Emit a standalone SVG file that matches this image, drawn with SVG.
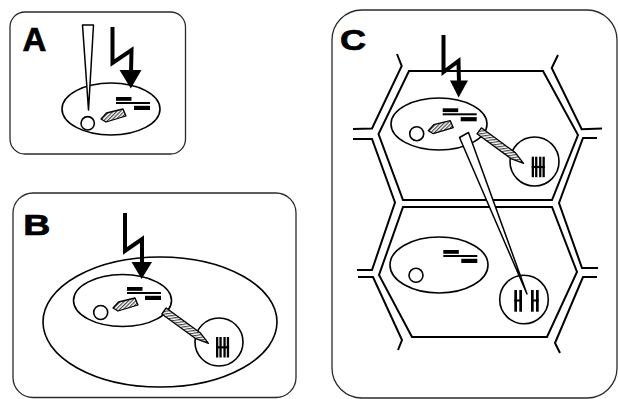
<svg xmlns="http://www.w3.org/2000/svg" width="618" height="399" viewBox="0 0 618 399">
<style>
  .frame{fill:none;stroke:#2a2a2a;stroke-width:1.3}
  .label{font-family:"Liberation Sans",Arial,sans-serif;font-weight:bold;fill:#000;stroke:#000;stroke-width:0.7}
  .outline{fill:none;stroke:#000;stroke-width:1.6}
  .wall{fill:none;stroke:#000;stroke-width:2;stroke-linejoin:miter}
  .bolt{fill:none;stroke:#000;stroke-width:4;stroke-linejoin:miter;stroke-miterlimit:10}
  .head{fill:#000}
  .needle{fill:#fff;stroke:#000;stroke-width:1.5;stroke-linejoin:round}
  .hatched{fill:url(#hatch);stroke:#000;stroke-width:1.3;stroke-linejoin:round}
  .ink{fill:#000}
</style>
<defs>
  <pattern id="hatch" width="2.6" height="2.6" patternUnits="userSpaceOnUse" patternTransform="rotate(45)">
    <rect width="2.6" height="2.6" fill="#fff"/>
    <line x1="0.6" y1="0" x2="0.6" y2="2.6" stroke="#3a3a3a" stroke-width="1.1"/>
  </pattern>
  <!-- gene bars: two blocks joined by a thin strand -->
  <g id="dna">
    <rect x="0" y="0" width="15.5" height="3.8"/>
    <rect x="0" y="5" width="34" height="2"/>
    <rect x="18" y="8.8" width="16" height="4.2"/>
  </g>
  <!-- small pointed organelle -->
  <path id="organelle" d="M0,0 L5.5,-6 L22,-10 L25,-3 L5,3 Z"/>
  <!-- hatched transfer tube, pointed at the far end -->
  <path id="pencil" d="M0,-3.7 L42,-3.7 L55,0 L42,3.7 L0,3.7 Z"/>
  <!-- paired chromatids -->
  <g id="pair">
    <rect x="0" y="0" width="2.3" height="20.5"/>
    <rect x="3.4" y="0" width="2.3" height="20.5"/>
    <rect x="7.4" y="0" width="2.3" height="20.5"/>
    <rect x="10.8" y="0" width="2.3" height="20.5"/>
    <rect x="0" y="9.2" width="13.1" height="2.2"/>
  </g>
</defs>

<rect width="618" height="399" fill="#fff"/>

<!-- panel A -->
<g id="panel-a">
  <rect class="frame" x="10" y="12" width="175.5" height="142" rx="15" ry="15"/>
  <text class="label" x="22.5" y="51" font-size="33">A</text>
  <ellipse class="outline" cx="111" cy="109" rx="49" ry="26"/>
  <circle class="outline" cx="87.7" cy="123.3" r="6.7"/>
  <use href="#organelle" class="hatched" transform="translate(101,119)"/>
  <use href="#dna" class="ink" transform="translate(116,97)"/>
</g>

<!-- panel B -->
<g id="panel-b">
  <rect class="frame" x="13" y="193" width="283" height="204.5" rx="20" ry="20"/>
  <text class="label" transform="translate(23.3,234.5) scale(1.25,1)" font-size="30">B</text>
  <ellipse class="outline" cx="160" cy="322" rx="117" ry="65"/>
  <ellipse class="outline" cx="122.5" cy="300.5" rx="49" ry="26"/>
  <circle class="outline" cx="100.7" cy="312.5" r="7"/>
  <use href="#organelle" class="hatched" transform="translate(113,308)"/>
  <use href="#dna" class="ink" transform="translate(127,287)"/>
  <circle class="outline" cx="219" cy="342" r="24"/>
  <use href="#pair" class="ink" transform="translate(216,337)"/>
</g>

<!-- panel C: two neighbouring cells in tissue -->
<g id="panel-c">
  <rect class="frame" x="332" y="10" width="285" height="388" rx="30" ry="30"/>
  <text class="label" transform="translate(340,49.5) scale(1.2,1)" font-size="30">C</text>
  <g id="tissue-walls">
    <polyline class="wall" points="397,54 401.7,66 372,128.5 353,129"/>
    <polyline class="wall" points="353,139 372,139 395,202.5 372,270 357,270"/>
    <polyline class="wall" points="358,277 373,277 402,340 398,350"/>
    <polyline class="wall" points="558,55 551.7,68 581.7,129.3 602,128.5"/>
    <polyline class="wall" points="597,138 583,138 559,203 582,268 598,268"/>
    <polyline class="wall" points="597,277 583,277 555,343 560,353"/>
  </g>
  <g id="cell-upper">
    <polygon class="wall" points="409,71 543,71 578,135 552,200 403,200 378.5,134"/>
    <ellipse class="outline" cx="439" cy="124" rx="48" ry="26"/>
    <circle class="outline" cx="416.7" cy="133.7" r="7"/>
    <use href="#organelle" class="hatched" transform="translate(428.3,130.7)"/>
    <use href="#dna" class="ink" transform="translate(442.7,108.3)"/>
    <circle class="outline" cx="534.5" cy="161.5" r="24.5"/>
    <use href="#pair" class="ink" transform="translate(531.7,156.7)"/>
  </g>
  <g id="cell-lower">
    <polygon class="wall" points="403,207 552,207 577,272 547,337 412,337 379,275"/>
    <ellipse class="outline" cx="439" cy="265" rx="49" ry="28"/>
    <circle class="outline" cx="416" cy="275.3" r="7"/>
    <use href="#dna" class="ink" transform="translate(443.3,250)"/>
    <circle class="outline" cx="524" cy="299.5" r="24.3"/>
    <g class="ink">
      <rect x="514.3" y="290" width="2.7" height="21.7"/>
      <rect x="519.3" y="290" width="2.7" height="21.7"/>
      <rect x="514.3" y="299.5" width="7.7" height="2"/>
      <rect x="531" y="290" width="2.7" height="21.7"/>
      <rect x="536" y="290" width="2.7" height="21.7"/>
      <rect x="531" y="299.5" width="7.7" height="2"/>
    </g>
  </g>
</g>

<!-- arrows, needles and transfer tubes -->
<g id="connectors">
  <polyline class="bolt" points="112.5,27 112.5,63 131.5,50 131,73"/>
  <polygon class="head" points="119.5,70 141.5,70 130.8,88.5"/>
  <polygon class="needle" points="82.5,25 93.5,25 88.5,110"/>

  <polyline class="bolt" points="125,213 125,251 142,239 142,264"/>
  <polygon class="head" points="131.5,262 152,262 141.6,279"/>
  <use href="#pencil" class="hatched" transform="translate(164,311) rotate(36)"/>

  <polyline class="bolt" points="443.5,35 443.5,72 458.5,61 459,83"/>
  <polygon class="head" points="450,80.5 468,80.5 458.6,97.5"/>
  <use href="#pencil" class="hatched" transform="translate(479.2,130.8) rotate(36.2)"/>
  <polygon class="needle" points="459.5,137.5 468.5,132.5 527,294"/>
</g>
</svg>
